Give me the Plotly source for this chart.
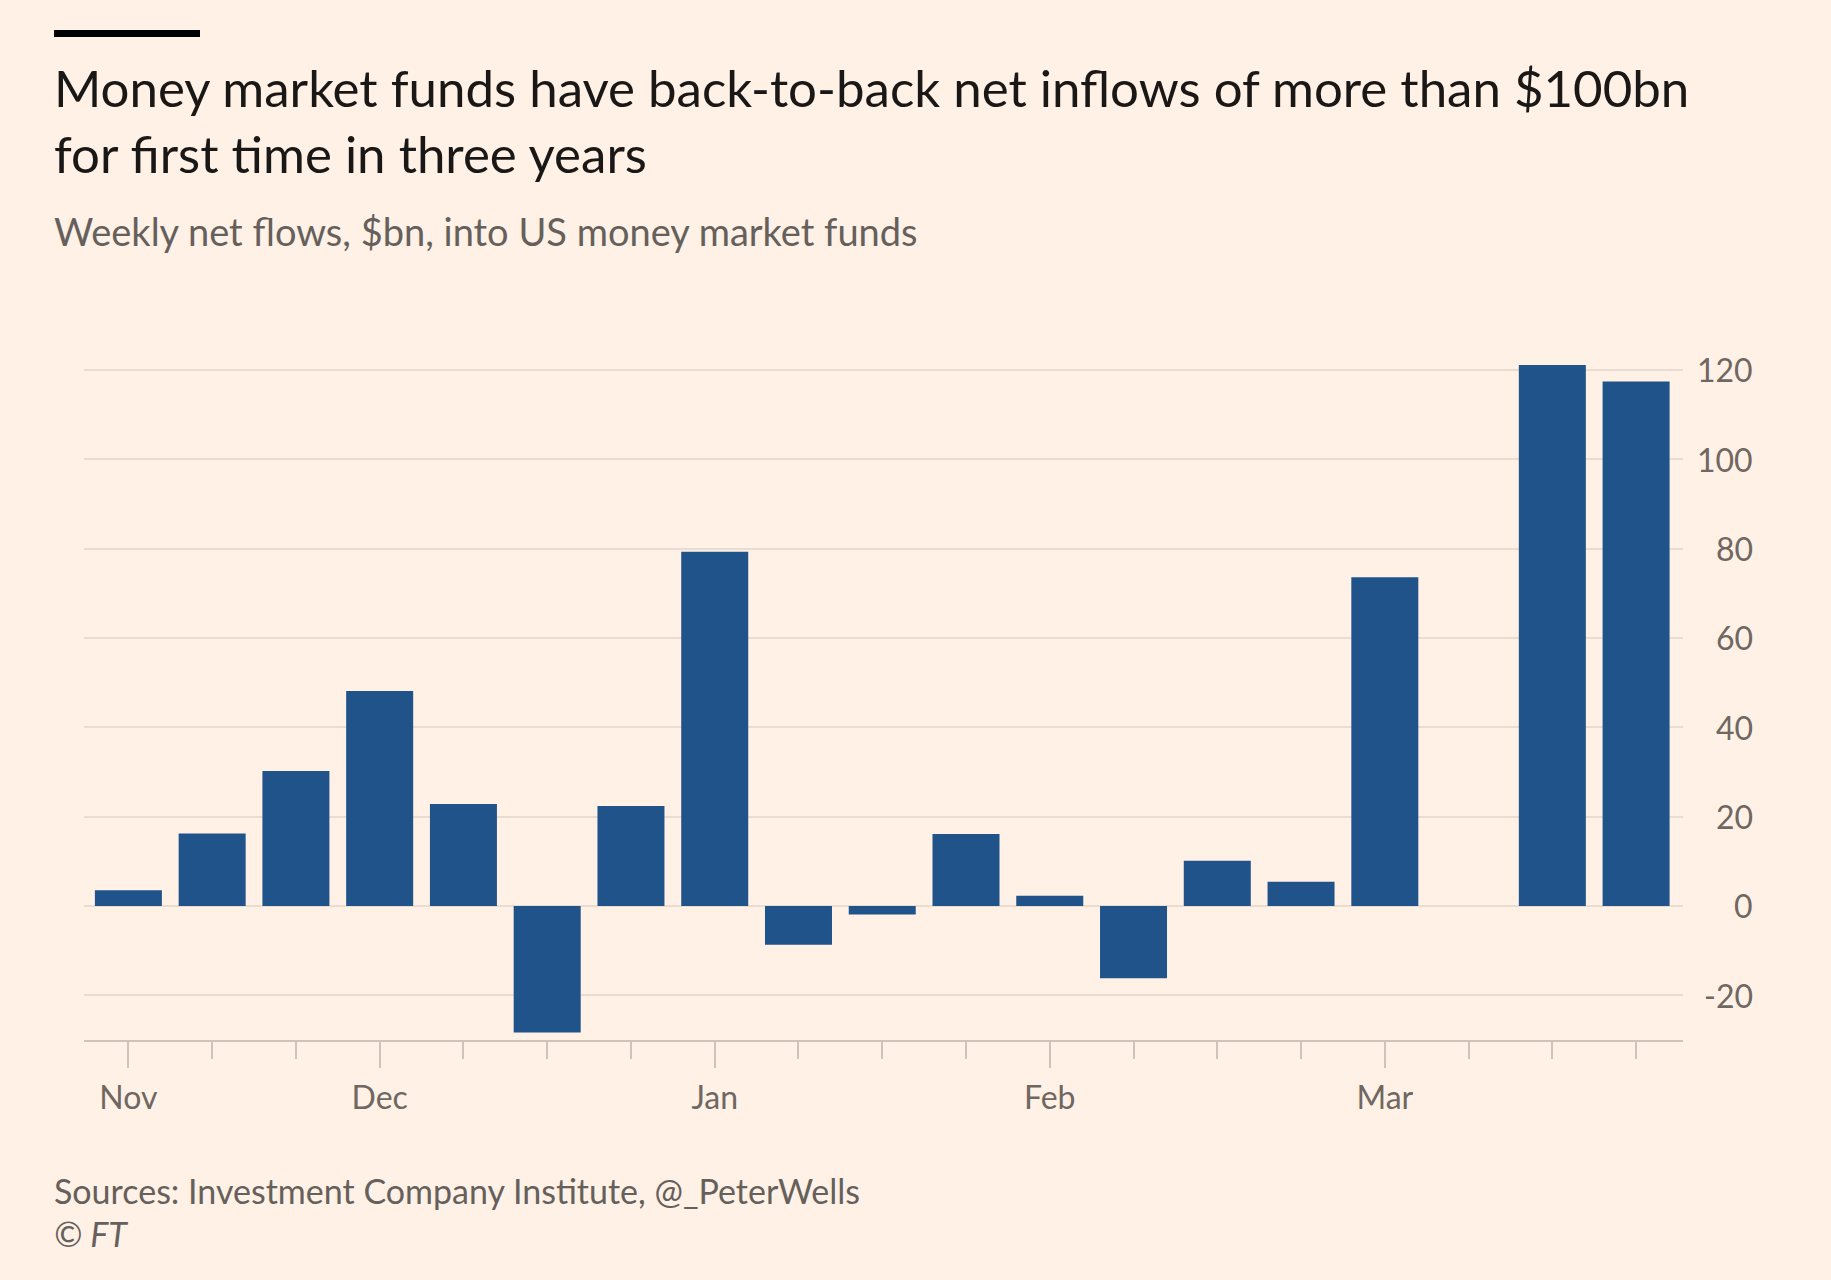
import plotly.graph_objects as go

# ---- data ----
week_index = list(range(19))
net_flows = [3.5, 16.2, 30.2, 48.1, 22.8, -28.3, 22.4, 79.3, -8.7, -1.9,
             16.1, 2.3, -16.2, 10.1, 5.4, 73.6, None, 121.1, 117.4]
month_labels = ["Nov", "Dec", "Jan", "Feb", "Mar"]
month_tick_index = [0, 3, 7, 11, 15]
y_ticks = [-20, 0, 20, 40, 60, 80, 100, 120]

title_text = ("Money market funds have back-to-back net inflows of more than $100bn<br>"
              "for first time in three years")
subtitle_text = "Weekly net flows, $bn, into US money market funds"
source_text = "Sources: Investment Company Institute, @_PeterWells"
credit_text = "© FT"

# ---- layout geometry (pixels) ----
W, H = 1831, 1280
L, R, T, B = 84, 1683, 352, 1040
FONT = "Lato"
BG = "#fff1e5"


def px(x):
    return (x - L) / (R - L)


def py(y):
    return (B - y) / (B - T)


fig = go.Figure()
fig.add_trace(go.Bar(
    x=week_index, y=net_flows,
    marker=dict(color="#21538b", line=dict(width=0)),
    hoverinfo="skip",
))

annotations = []
annotations.append(dict(text=title_text, x=px(52), y=py(120), xref="paper", yref="paper",
                        xanchor="left", yanchor="middle", align="left", showarrow=False,
                        font=dict(family=FONT, size=51, color="#1a1817")))
annotations.append(dict(text=subtitle_text, x=px(52), y=py(231), xref="paper", yref="paper",
                        xanchor="left", yanchor="middle", align="left", showarrow=False,
                        font=dict(family=FONT, size=38, color="#66605c")))
annotations.append(dict(text=source_text, x=px(52), y=py(1190), xref="paper", yref="paper",
                        xanchor="left", yanchor="middle", align="left", showarrow=False,
                        font=dict(family=FONT, size=34, color="#66605c")))
annotations.append(dict(text="<i>" + credit_text + "</i>", x=px(52), y=py(1233), xref="paper", yref="paper",
                        xanchor="left", yanchor="middle", align="left", showarrow=False,
                        font=dict(family=FONT, size=34, color="#66605c")))
for v in y_ticks:
    annotations.append(dict(text=str(v), x=px(1755), y=v, xref="paper", yref="y",
                            xanchor="right", yanchor="middle", showarrow=False,
                            font=dict(family=FONT, size=32, color="#6f6762")))

fig.update_layout(
    width=W, height=H,
    margin=dict(l=L, r=W - R, t=T, b=H - B, pad=0),
    paper_bgcolor=BG, plot_bgcolor=BG,
    bargap=0.2, showlegend=False,
    annotations=annotations,
    shapes=[dict(type="rect", xref="paper", yref="paper",
                 x0=px(54), x1=px(200), y0=py(30), y1=py(37),
                 fillcolor="#000000", line=dict(width=0))],
    xaxis=dict(
        range=[-0.53, 18.56], showgrid=False, zeroline=False,
        showline=True, linecolor="#cfc4ba", linewidth=1.5,
        tickmode="array", tickvals=month_tick_index, ticktext=month_labels,
        ticks="outside", ticklen=26, tickwidth=1.5, tickcolor="#cfc4ba",
        ticklabelstandoff=3,
        tickfont=dict(family=FONT, size=32, color="#6f6762"),
        minor=dict(ticks="outside", ticklen=17, tickwidth=1.5, tickcolor="#cfc4ba",
                   dtick=1, tick0=0, showgrid=False),
        fixedrange=True,
    ),
    yaxis=dict(
        range=[-30, 124], tickmode="array", tickvals=y_ticks,
        showticklabels=False, showgrid=True, gridcolor="#e9dcd1", gridwidth=1.5,
        zeroline=False, fixedrange=True,
    ),
)

fig.write_html("out.html", config={"displayModeBar": False},
               post_script="document.body.style.margin='0';")
